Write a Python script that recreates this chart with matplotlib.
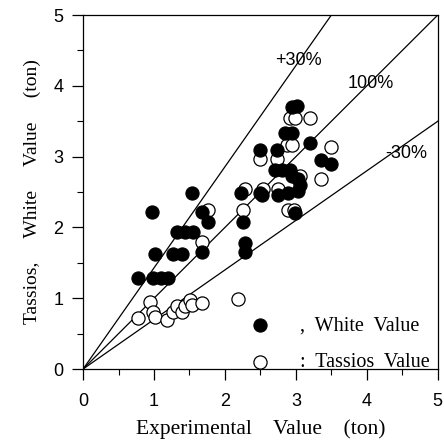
import numpy as np
import matplotlib
matplotlib.use("Agg")
import matplotlib.pyplot as plt
from matplotlib.ticker import MultipleLocator

# ── data (ton) ───────────────────────────────────────────────────────────────
white_x = [0.78, 0.98, 1.10, 1.20, 0.97, 1.01, 1.27, 1.39, 1.32, 1.44, 1.55,
           1.53, 1.67, 1.76, 1.67, 2.28, 2.28, 2.26, 2.23, 2.49, 2.52, 2.75,
           2.89, 3.03, 3.06, 2.99, 2.70, 2.80, 2.92, 2.94, 3.03, 2.49, 2.73,
           3.36, 3.50, 3.20, 2.85, 2.94, 2.94, 3.01]
white_y = [1.29, 1.29, 1.29, 1.29, 2.22, 1.63, 1.63, 1.63, 1.93, 1.93, 1.93,
           2.48, 2.22, 2.07, 1.66, 1.78, 1.66, 2.08, 2.48, 2.48, 2.46, 2.46,
           2.48, 2.51, 2.60, 2.20, 2.81, 2.81, 2.81, 2.72, 2.69, 3.09, 3.09,
           2.95, 2.90, 3.19, 3.34, 3.34, 3.70, 3.72]

tassios_x = [0.78, 0.94, 0.99, 1.01, 1.18, 1.27, 1.32, 1.39, 1.44, 1.51, 1.53,
             1.67, 2.19, 1.67, 1.76, 2.26, 2.28, 2.54, 2.75, 2.89, 2.97, 3.06,
             3.36, 2.49, 2.73, 2.87, 2.94, 3.50, 2.92, 2.99, 3.20]
tassios_y = [0.72, 0.95, 0.81, 0.74, 0.69, 0.81, 0.89, 0.81, 0.89, 0.97, 0.90,
             0.94, 0.99, 1.80, 2.25, 2.25, 2.55, 2.55, 2.55, 2.25, 2.25, 2.72,
             2.69, 2.97, 2.97, 3.16, 3.16, 3.14, 3.54, 3.54, 3.54]

ref_slopes = [1 / 0.7, 1.0, 0.7]
ref_labels = ["+30%", "100%", "-30%"]
ref_label_pos = [(3.03, 4.36), (4.06, 4.04), (4.56, 3.05)]

serif = ["Liberation Serif", "DejaVu Serif"]
sans = ["Liberation Sans", "DejaVu Sans"]

fig = plt.figure(figsize=(4.44, 4.42), dpi=100)
ax = fig.add_axes([0.187, 0.165, 0.799, 0.801])

# ── reference lines through the origin ───────────────────────────────────────
xs = np.array([0, 5])
for k in ref_slopes:
    ax.plot(xs, k * xs, color="black", linewidth=0.9, zorder=1)
for lab, (lx, ly) in zip(ref_labels, ref_label_pos):
    ax.text(lx, ly, lab, fontsize=13, family=sans, ha="center", va="center")

# ── data points ──────────────────────────────────────────────────────────────
ax.scatter(white_x, white_y, s=90, c="black", edgecolors="black",
           linewidths=0.8, zorder=3, label=",  White  Value")
ax.scatter(tassios_x, tassios_y, s=90, facecolors="white", edgecolors="black",
           linewidths=0.9, zorder=2, label=":  Tassios  Value")

ax.set_xlim(0, 5)
ax.set_ylim(0, 5)
ax.xaxis.set_major_locator(MultipleLocator(1))
ax.yaxis.set_major_locator(MultipleLocator(1))
ax.xaxis.set_minor_locator(MultipleLocator(0.5))
ax.yaxis.set_minor_locator(MultipleLocator(0.5))
ax.tick_params(which="major", direction="out", length=8, width=0.9,
               labelsize=13, pad=6)
ax.tick_params(axis="x", which="major", pad=9)
ax.tick_params(which="minor", direction="out", length=4, width=0.8)
for lbl in ax.get_xticklabels() + ax.get_yticklabels():
    lbl.set_family(sans)
for sp in ax.spines.values():
    sp.set_linewidth(0.9)

ax.set_xlabel("Experimental    Value    (ton)", fontsize=15.5, family=serif,
              labelpad=7)
ax.set_ylabel("Tassios,     White     Value     (ton)", fontsize=14,
              family=serif, labelpad=9)

leg = ax.legend(loc="lower right", bbox_to_anchor=(0.983, -0.015),
                frameon=False, prop={"family": serif, "size": 14.5},
                handletextpad=1.0, borderaxespad=0.0, borderpad=0.1,
                labelspacing=0.9, scatterpoints=1)

fig.savefig("out.png", dpi=100)
